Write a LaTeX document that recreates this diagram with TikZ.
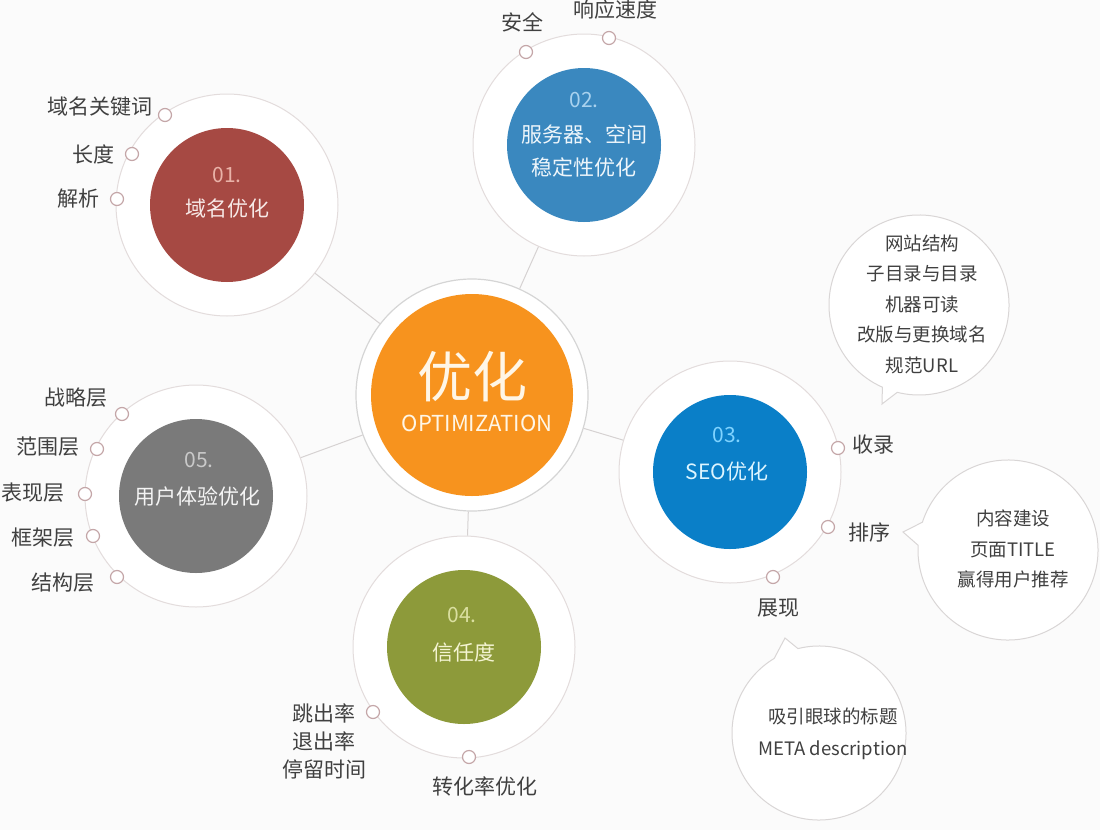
\documentclass[tikz,border=0pt]{standalone}
\usepackage{fontspec}
\setmainfont{Noto Sans CJK SC}
\definecolor{bg}{HTML}{FBFBFB}
\definecolor{ringc}{HTML}{E3DCDC}
\definecolor{linec}{HTML}{D6D2D2}
\definecolor{dotc}{HTML}{C4A6A8}
\definecolor{labc}{HTML}{404040}
\definecolor{cred}{HTML}{A64943}
\definecolor{cblue}{HTML}{3A88BF}
\definecolor{cseo}{HTML}{0A7FC8}
\definecolor{colive}{HTML}{8D9A3A}
\definecolor{cgray}{HTML}{7A7A7A}
\definecolor{corange}{HTML}{F7931E}
\definecolor{nred}{HTML}{E9B2A8}
\definecolor{nblue}{HTML}{A9D2EE}
\definecolor{nseo}{HTML}{7FD3FF}
\definecolor{nolive}{HTML}{DADFA0}
\definecolor{ngray}{HTML}{C9C9C9}
\definecolor{tred}{HTML}{F7E9E7}
\definecolor{tblue}{HTML}{EEF6FB}
\definecolor{tseo}{HTML}{DDF5FF}
\definecolor{tolive}{HTML}{F4F4D2}
\definecolor{tgray}{HTML}{F4F4F4}
\definecolor{torange}{HTML}{FFF6E6}
\definecolor{bubc}{HTML}{D9D6D6}
\definecolor{cring}{HTML}{D5D5D5}
\begin{document}
\begin{tikzpicture}[x=1pt,y=-1pt,
  ring/.style={circle,draw=ringc,line width=1pt,fill=white,minimum size=222pt,inner sep=0pt},
  core/.style={circle,fill=#1,minimum size=154pt,inner sep=0pt},
  conn/.style={draw=linec,line width=1pt},
  dotnode/.style={circle,draw=dotc,line width=1.2pt,fill=white,minimum size=13pt,inner sep=0pt},
  lab/.style={text=labc,font=\fontsize{21}{28}\selectfont,inner sep=0pt},
  num/.style={font=\fontsize{21}{24}\selectfont,inner sep=0pt},
  ttl/.style={font=\fontsize{21}{24}\selectfont,inner sep=0pt},
  bubble/.style={draw=bubc,line width=1pt,fill=white,line join=miter},
  btxt/.style={text=labc,font=\fontsize{18.5}{30.5}\selectfont,align=center,inner sep=0pt}
]
\useasboundingbox (0,0) rectangle (1100,830);
\fill[bg] (0,0) rectangle (1100,830);

% rings
\node[ring,minimum size=232pt,draw=cring,line width=1.2pt] (rc) at (472,395) {};
\node[ring] (r1) at (227,205) {};
\node[ring] (r2) at (584,145) {};
\node[ring] (r3) at (730,472) {};
\node[ring] (r4) at (464,647) {};
\node[ring] (r5) at (196,496) {};

% connectors
\draw[conn] (rc) -- (r1);
\draw[conn] (rc) -- (r2);
\draw[conn] (rc) -- (r3);
\draw[conn] (rc) -- (r4);
\draw[conn] (rc) -- (r5);

% cores
\node[core=corange,minimum size=202pt] (cc) at (472,395) {};
\node[core=cred] (c1) at (227,205) {};
\node[core=cblue] (c2) at (584,145) {};
\node[core=cseo] (c3) at (730,472) {};
\node[core=colive] (c4) at (464,647) {};
\node[core=cgray] (c5) at (196,496) {};

% core texts
\node[inner sep=0pt,text=torange,font=\fontsize{55}{56}\selectfont] (tc1) at (472,377) {优化};
\node[inner sep=0pt,text=torange,font=\fontsize{22}{24}\selectfont] (tc2) at (477,423) {OPTIMIZATION};
\node[num,text=nred] (n1) at (227,175) {01.};
\node[ttl,text=tred] (t1) at (227,208) {域名优化};
\node[num,text=nblue] (n2) at (584,100) {02.};
\node[ttl,text=tblue] (t2a) at (584,134) {服务器、空间};
\node[ttl,text=tblue] (t2b) at (584,167) {稳定性优化};
\node[num,text=nseo] (n3) at (727,435) {03.};
\node[ttl,text=tseo] (t3) at (727,472) {SEO优化};
\node[num,text=nolive] (n4) at (462,615) {04.};
\node[ttl,text=tolive] (t4) at (464,652) {信任度};
\node[num,text=ngray] (n5) at (199,460) {05.};
\node[ttl,text=tgray] (t5) at (197,497) {用户体验优化};

% dots
\node[dotnode] (d11) at (165,115) {};
\node[dotnode] (d12) at (132,154) {};
\node[dotnode] (d13) at (117,199) {};
\node[dotnode] (d21) at (526,52) {};
\node[dotnode] (d22) at (609,38) {};
\node[dotnode] (d31) at (838,448) {};
\node[dotnode] (d32) at (828,527) {};
\node[dotnode] (d33) at (773,577) {};
\node[dotnode] (d41) at (373,712) {};
\node[dotnode] (d42) at (469,757) {};
\node[dotnode] (d51) at (122,414) {};
\node[dotnode] (d52) at (97,449) {};
\node[dotnode] (d53) at (85,494) {};
\node[dotnode] (d54) at (93,536) {};
\node[dotnode] (d55) at (117,577) {};

% labels
\node[lab,anchor=east] (l11) at (153,107) {域名关键词};
\node[lab,anchor=east] (l12) at (115,154) {长度};
\node[lab,anchor=east] (l13) at (100,199) {解析};
\node[lab] (l21) at (522,22) {安全};
\node[lab] (l22) at (615,10) {响应速度};
\node[lab,anchor=west] (l31) at (852,445) {收录};
\node[lab,anchor=west] (l32) at (848,532) {排序};
\node[lab] (l33) at (778,608) {展现};
\node[lab,align=center] (l41) at (324,741) {跳出率\\退出率\\停留时间};
\node[lab] (l42) at (485,786) {转化率优化};
\node[lab,anchor=east] (l51) at (108,398) {战略层};
\node[lab,anchor=east] (l52) at (80,447) {范围层};
\node[lab,anchor=east] (l53) at (65,493) {表现层};
\node[lab,anchor=east] (l54) at (75,538) {框架层};
\node[lab,anchor=east] (l55) at (95,583) {结构层};

% speech bubbles
\draw[bubble] (919,305) ++(114:90) arc[start angle=114,end angle=464,radius=90] -- (882,404) -- cycle;
\draw[bubble] (1008,550) ++(198:90) arc[start angle=198,end angle=543,radius=90] -- (903,532) -- cycle;
\draw[bubble] (819,733) ++(256:87) arc[start angle=256,end angle=599,radius=87] -- (785,638) -- cycle;

\node[btxt] (b1) at (922,304) {网站结构\\子目录与目录\\机器可读\\改版与更换域名\\规范URL};
\node[btxt] (b2) at (1013,549) {内容建设\\页面TITLE\\赢得用户推荐};
\node[btxt,font=\fontsize{18.5}{32}\selectfont] (b3) at (833,734) {吸引眼球的标题\\META description};
\end{tikzpicture}
\end{document}
